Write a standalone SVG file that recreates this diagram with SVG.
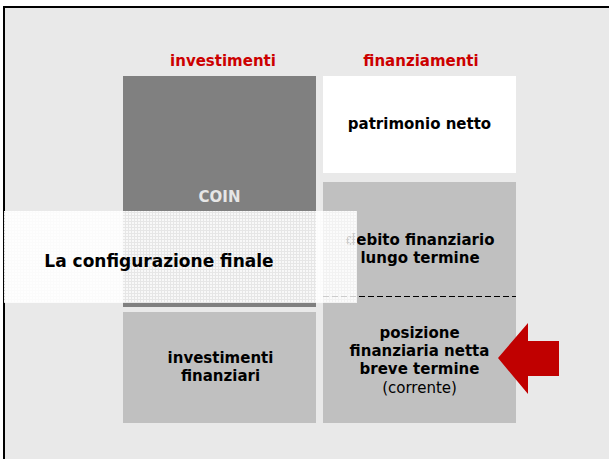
<svg xmlns="http://www.w3.org/2000/svg" width="609" height="459" viewBox="0 0 609 459">
<style>
text{font-family:"DejaVu Sans",Verdana,sans-serif;font-weight:bold;text-anchor:middle;font-size:15px;fill:#000}
.hd{fill:#CC0000}
.box{fill:#C0C0C0}
</style>
<defs>
<pattern id="dots" width="3" height="3" patternUnits="userSpaceOnUse">
<rect width="3" height="3" fill="#fff" fill-opacity="0.8"/>
<rect width="2" height="2" fill="#fff" fill-opacity="0.7"/>
</pattern>
</defs>
<rect x="0" y="0" width="609" height="459" fill="#fff"/>
<rect x="4" y="7" width="606" height="453" fill="#E9E9E9" stroke="#000" stroke-width="2"/>
<text class="hd" x="223" y="66">investimenti</text>
<text class="hd" x="421" y="66">finanziamenti</text>
<g id="coin"><rect x="123" y="76" width="193" height="231" fill="#808080"/><text x="219.5" y="202" style="fill:#E6E6E6">COIN</text></g>
<g id="pn"><rect x="323" y="76" width="193" height="97" fill="#fff"/><text x="419.5" y="129">patrimonio netto</text></g>
<g id="debito"><rect class="box" x="323" y="182" width="193" height="241"/><text x="420" y="245">debito finanziario</text><text x="420" y="263">lungo termine</text></g>
<g id="invfin"><rect class="box" x="123" y="312" width="193" height="111"/><text x="220.5" y="363">investimenti</text><text x="220.5" y="381">finanziari</text></g>
<g id="pfn"><text x="419.5" y="338">posizione</text><text x="419.5" y="356">finanziaria netta</text><text x="419.5" y="374">breve termine</text><text x="419.5" y="393" style="font-weight:normal">(corrente)</text></g>
<g id="connectors"><line x1="323" y1="296.5" x2="516" y2="296.5" stroke="#000" stroke-width="1" stroke-dasharray="6,3"/></g>
<g id="arrow"><polygon points="498,358 528,323 528,341 559,341 559,376 528,376 528,394" fill="#C00000"/></g>
<g id="overlay"><rect x="4" y="211" width="353" height="92" fill="url(#dots)"/><text x="159" y="267" style="font-size:17px">La configurazione finale</text></g>
</svg>
